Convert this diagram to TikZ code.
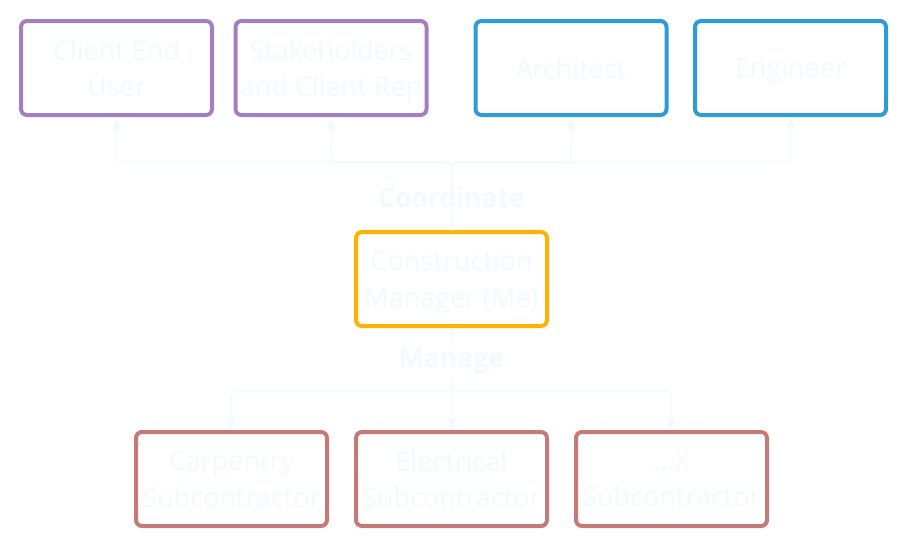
\documentclass[tikz,border=0pt]{standalone}
\usepackage{fontspec}
\setmainfont{Open Sans}
\usetikzlibrary{arrows.meta}
\definecolor{txt}{HTML}{F0FAFF}
\definecolor{purp}{HTML}{A77DC2}
\definecolor{blu}{HTML}{2D9BD5}
\definecolor{orng}{HTML}{FFB300}
\definecolor{redd}{HTML}{C57A78}
\begin{document}
\begin{tikzpicture}[x=1pt,y=-1pt,
  box/.style={draw, line width=4pt, rounded corners=6pt, minimum width=191pt, minimum height=94pt,
    text=txt, align=center, font=\fontsize{27}{36.5}\selectfont, inner sep=0pt, text depth=0pt},
  twoline/.style={text depth=-5pt},
  conn/.style={draw=txt, line width=1.2pt, rounded corners=5pt, -{Triangle[width=8pt,length=12pt]}},
  lbl/.style={fill=white, text=txt, font=\fontsize{26.5}{30}\selectfont\bfseries, inner sep=2pt}]
\useasboundingbox (0,0) rectangle (909,547);
\node[box, twoline, draw=purp] (ceu) at (116.5,68) {Client End\\User};
\node[box, twoline, draw=purp] (stk) at (331,68) {Stakeholders\\and Client Rep};
\node[box, draw=blu] (arc) at (571,68) {Architect};
\node[box, draw=blu] (eng) at (790.5,68) {Engineer};
\node[box, twoline, draw=orng] (cm) at (451.5,279) {Construction\\Manager (Me)};
\node[box, twoline, draw=redd] (carp) at (231.5,479) {Carpentry\\Subcontractor};
\node[box, twoline, draw=redd] (elec) at (451.5,479) {Electrical\\Subcontractor};
\node[box, twoline, draw=redd] (xsub) at (671.5,479) {...X\\Subcontractor};
\coordinate (top) at (451.5,162);
\coordinate (bot) at (451.5,391);
\draw[conn] (cm.north) -- (top) -| (ceu.south);
\draw[conn] (cm.north) -- (top) -| (stk.south);
\draw[conn] (cm.north) -- (top) -| (arc.south);
\draw[conn] (cm.north) -- (top) -| (eng.south);
\draw[conn] (cm.south) -- (bot) -| (carp.north);
\draw[conn] (cm.south) -- (bot) -- (elec.north);
\draw[conn] (cm.south) -- (bot) -| (xsub.north);
\node[lbl] (coord) at (451.5,198) {Coordinate};
\node[lbl] (mng) at (451.5,361) {Manage};
\end{tikzpicture}
\end{document}
